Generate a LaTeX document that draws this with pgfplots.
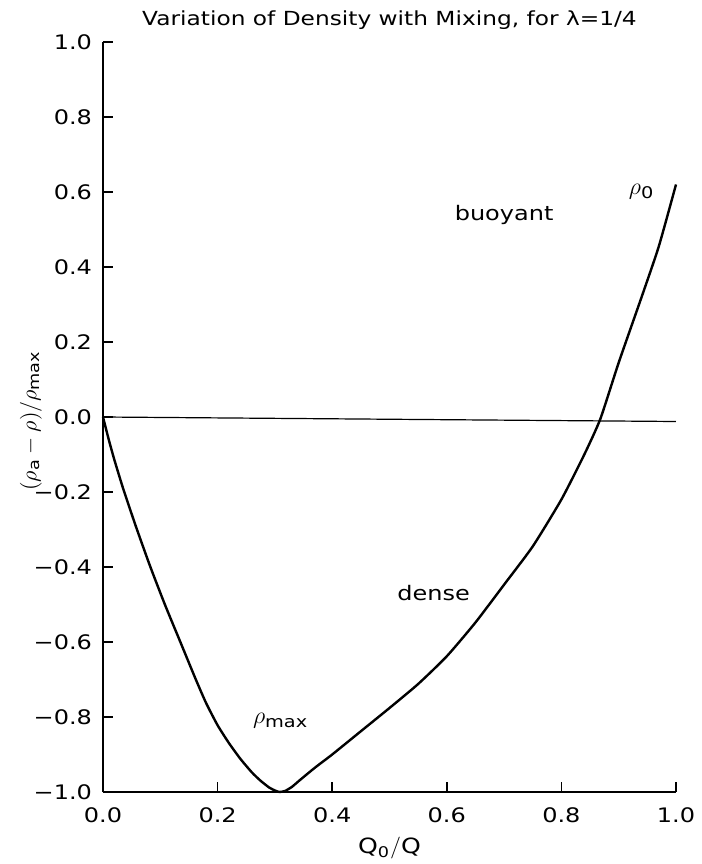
\documentclass[border=0pt]{standalone}
\usepackage{fontspec}
\setmainfont{DejaVu Sans}[FakeStretch=1.2]
\usepackage{amsmath}
\usepackage{pgfplots}
\pgfplotsset{compat=1.18}

\begin{document}
\begin{tikzpicture}
% page frame, in pt (1 px of the reference = 0.5pt)
\path[use as bounding box] (-51.5pt,-36pt) rectangle (299.5pt,396pt);
\begin{axis}[
    scale only axis,
    width=286.5pt, height=375pt,
    at={(0,0)}, anchor=south west,
    xmin=0, xmax=1, ymin=-1, ymax=1,
    axis x line*=bottom, axis y line*=left,
    axis line style={line width=1pt},
    tick align=inside,
    major tick length=5pt,
    tick style={line width=0.8pt, black},
    xtick={0,0.2,...,1.0}, ytick={-1,-0.8,...,1.0},
    yticklabels={−1.0,−0.8,−0.6,−0.4,−0.2,0.0,0.2,0.4,0.6,0.8,1.0},
    /pgf/number format/assume math mode=true,
    /pgf/number format/fixed, /pgf/number format/fixed zerofill,
    /pgf/number format/precision=1,
    ticklabel style={font=\fontsize{10}{12}\selectfont},
    xticklabel style={yshift=-4.5pt},
    yticklabel style={xshift=-2pt},
    xlabel={$\text{Q}_\text{0}/\text{Q}$},
    xlabel style={at={(axis description cs:0.5,0)}, anchor=center, yshift=-28pt, font=\fontsize{10.5}{12}\selectfont},
    ylabel={$(\rho_\text{a}-\rho)/\rho_\text{max}$},
    ylabel style={at={(axis description cs:0,0.495)}, anchor=center, yshift=36pt, font=\fontsize{10.5}{12}\selectfont},
    title={Variation of Density with Mixing, for λ=1/4},
    title style={at={(axis description cs:0.5,1)}, anchor=center, yshift=5pt, font=\fontsize{9.7}{11}\selectfont},
    clip=false,
]
% zero line
\addplot[black, line width=0.6pt] coordinates {(0,0) (1.0,-0.012)};
% density curve
\addplot[black, line width=1.2pt, smooth, tension=0.35] coordinates {
(0,0) (0.01,-0.06) (0.02,-0.115) (0.035,-0.19) (0.057,-0.29) (0.082,-0.397)
(0.108,-0.50) (0.135,-0.60) (0.162,-0.70) (0.18,-0.763) (0.20,-0.822)
(0.22,-0.870) (0.24,-0.912) (0.26,-0.948) (0.275,-0.970) (0.29,-0.988)
(0.30,-0.996) (0.308,-1.0) (0.318,-0.997) (0.330,-0.986) (0.343,-0.969)
(0.37,-0.935) (0.40,-0.900) (0.45,-0.838) (0.50,-0.776) (0.55,-0.712)
(0.60,-0.638) (0.65,-0.548) (0.70,-0.447) (0.75,-0.345) (0.80,-0.22)
(0.84,-0.10) (0.868,-0.005) (0.90,0.145) (0.94,0.32) (0.97,0.455) (1.0,0.62)
};
\node[font=\fontsize{10}{12}\selectfont] at (axis cs:0.70,0.54) {buoyant};
\node[font=\fontsize{10}{12}\selectfont] at (axis cs:0.577,-0.47) {dense};
\node[font=\fontsize{11.5}{14}\selectfont] at (axis cs:0.31,-0.81) {$\rho_\text{max}$};
\node[font=\fontsize{11.5}{14}\selectfont] at (axis cs:0.94,0.60) {$\rho_\text{0}$};
\end{axis}
\end{tikzpicture}
\end{document}
